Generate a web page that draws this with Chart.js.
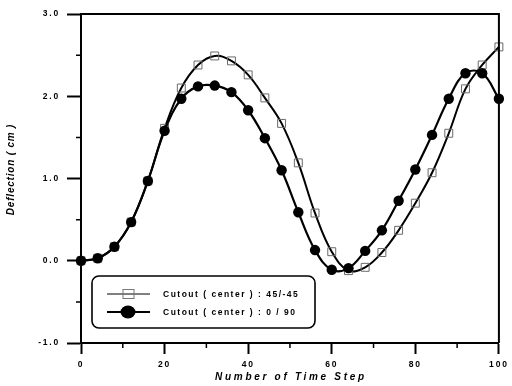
<!DOCTYPE html>
<html>
<head>
<meta charset="utf-8">
<script src="https://cdn.jsdelivr.net/npm/chart.js@4/dist/chart.umd.min.js"></script>
<style>
  html, body { margin: 0; padding: 0; background: #fff; }
  #wrap { width: 512px; height: 386px; position: relative; }
</style>
</head>
<body>
<div id="wrap"><canvas id="c" width="512" height="386"></canvas></div>
<script>
// ---- data ----
const timeSteps = [0, 4, 8, 12, 16, 20, 24, 28, 32, 36, 40, 44, 48, 52, 56, 60, 64, 68, 72, 76, 80, 84, 88, 92, 96, 100];
const cutout45 = [0, 0.03, 0.17, 0.47, 0.97, 1.61, 2.10, 2.38, 2.49, 2.43, 2.26, 1.98, 1.67, 1.19, 0.58, 0.11, -0.12, -0.08, 0.10, 0.37, 0.70, 1.07, 1.55, 2.09, 2.38, 2.60];
const cutout090 = [0, 0.03, 0.17, 0.47, 0.97, 1.58, 1.97, 2.12, 2.13, 2.05, 1.83, 1.49, 1.10, 0.59, 0.13, -0.11, -0.09, 0.12, 0.37, 0.73, 1.11, 1.53, 1.97, 2.28, 2.28, 1.97];
const seriesNames = ['Cutout ( center ) : 45/-45', 'Cutout ( center ) : 0 / 90'];
const xTitle = 'Number of Time Step';
const yTitle = 'Deflection ( cm )';
const xRange = [0, 100], xStep = 10, xLabelEvery = 20;
const yRange = [-1, 3], yStep = 0.5;

const toPoints = ys => timeSteps.map((x, i) => ({ x: x, y: ys[i] }));

const deco = {
  id: 'deco',
  beforeDraw(chart) { chart.ctx.letterSpacing = '1.8px'; },
  afterDraw(chart) {
    const { ctx, chartArea: a, scales: { x, y } } = chart;
    ctx.save();
    ctx.letterSpacing = '0px';
    ctx.strokeStyle = '#000';
    // top and right frame
    ctx.lineWidth = 2;
    ctx.beginPath();
    ctx.moveTo(a.left, a.top); ctx.lineTo(a.right, a.top); ctx.lineTo(a.right, a.bottom);
    ctx.stroke();
    // minor ticks
    ctx.lineWidth = 1.5;
    ctx.beginPath();
    y.ticks.forEach(t => {
      if (!Number.isInteger(t.value)) {
        const py = y.getPixelForValue(t.value);
        ctx.moveTo(a.left - 5, py); ctx.lineTo(a.left, py);
      }
    });
    x.ticks.forEach(t => {
      if (t.value % xLabelEvery !== 0) {
        const px = x.getPixelForValue(t.value);
        ctx.moveTo(px, a.bottom); ctx.lineTo(px, a.bottom + 5);
      }
    });
    ctx.stroke();

    // axis titles
    ctx.fillStyle = '#000';
    ctx.font = 'italic bold 10px "Liberation Sans", Arial, sans-serif';
    ctx.textAlign = 'center';
    ctx.textBaseline = 'middle';
    ctx.letterSpacing = '2.7px';
    ctx.fillText(xTitle, (a.left + a.right) / 2 + 1, a.bottom + 34);
    ctx.save();
    ctx.letterSpacing = '0.8px';
    ctx.translate(11, (a.top + a.bottom) / 2 - 9);
    ctx.rotate(-Math.PI / 2);
    ctx.fillText(yTitle, 0, 0);
    ctx.restore();

    // legend box
    const lx = a.left + 11, ly = a.bottom - 67, lw = 223, lh = 52;
    ctx.letterSpacing = '0px';
    ctx.beginPath();
    ctx.roundRect(lx, ly, lw, lh, 7);
    ctx.fillStyle = '#fff';
    ctx.fill();
    ctx.lineWidth = 1.6;
    ctx.strokeStyle = '#000';
    ctx.stroke();
    const rows = [ly + 18, ly + 36];
    // row 1: thin line + open square
    ctx.lineWidth = 1;
    ctx.beginPath(); ctx.moveTo(lx + 15, rows[0]); ctx.lineTo(lx + 58, rows[0]); ctx.stroke();
    ctx.strokeStyle = '#777';
    ctx.strokeRect(lx + 31, rows[0] - 4.5, 11, 9);
    // row 2: thick line + filled circle
    ctx.strokeStyle = '#000';
    ctx.lineWidth = 2.2;
    ctx.beginPath(); ctx.moveTo(lx + 15, rows[1]); ctx.lineTo(lx + 58, rows[1]); ctx.stroke();
    ctx.beginPath(); ctx.ellipse(lx + 36, rows[1], 7.5, 6.5, 0, 0, Math.PI * 2); ctx.fillStyle = '#000'; ctx.fill();
    // texts
    ctx.fillStyle = '#000';
    ctx.font = 'bold 8.5px "Liberation Sans", Arial, sans-serif';
    ctx.textAlign = 'left';
    ctx.letterSpacing = '1.5px';
    ctx.fillText(seriesNames[0], lx + 71, rows[0] + 1);
    ctx.fillText(seriesNames[1], lx + 71, rows[1] + 1);
    ctx.restore();
  }
};

const tickFont = { family: '"Liberation Sans", Arial, sans-serif', size: 8.5, weight: 'bold' };

new Chart(document.getElementById('c'), {
  type: 'line',
  data: {
    datasets: [
      {
        label: seriesNames[0],
        data: toPoints(cutout45),
        borderColor: '#000',
        borderWidth: 2,
        tension: 0.4,
        pointStyle: 'rect',
        pointRadius: 5.6,
        pointBorderColor: '#6a6a6a',
        pointBorderWidth: 1,
        pointBackgroundColor: 'rgba(0,0,0,0)',
        clip: false,
        order: 2
      },
      {
        label: seriesNames[1],
        data: toPoints(cutout090),
        borderColor: '#000',
        borderWidth: 2.2,
        tension: 0.4,
        pointStyle: 'circle',
        pointRadius: 5.2,
        pointBorderWidth: 0,
        pointBackgroundColor: '#000',
        clip: false,
        order: 1
      }
    ]
  },
  options: {
    responsive: false,
    animation: false,
    events: [],
    layout: { padding: { top: 14, right: 7, left: 0, bottom: 0 } },
    plugins: { legend: { display: false }, tooltip: { enabled: false }, title: { display: false } },
    scales: {
      x: {
        type: 'linear',
        min: xRange[0], max: xRange[1],
        afterFit: s => { s.height = 43; },
        border: { display: true, color: '#000', width: 2 },
        grid: {
          drawOnChartArea: false, drawTicks: true, tickLength: 11, tickWidth: 2,
          tickColor: c => (c.tick && c.tick.value % xLabelEvery === 0) ? '#000' : 'rgba(0,0,0,0)'
        },
        ticks: {
          stepSize: xStep, padding: 6, color: '#000', font: tickFont, maxRotation: 0, autoSkip: false,
          callback: v => (v % xLabelEvery === 0 ? String(v) : '')
        },
        title: { display: false }
      },
      y: {
        min: yRange[0], max: yRange[1],
        afterFit: s => { s.width = 81; },
        border: { display: true, color: '#000', width: 2 },
        grid: {
          drawOnChartArea: false, drawTicks: true, tickLength: 14, tickWidth: 2,
          tickColor: c => (c.tick && Number.isInteger(c.tick.value)) ? '#000' : 'rgba(0,0,0,0)'
        },
        ticks: {
          stepSize: yStep, padding: 7, color: '#000', font: tickFont, autoSkip: false,
          callback: v => (Number.isInteger(v) ? v.toFixed(1) : '')
        },
        title: { display: false }
      }
    }
  },
  plugins: [deco]
});
</script>
</body>
</html>
